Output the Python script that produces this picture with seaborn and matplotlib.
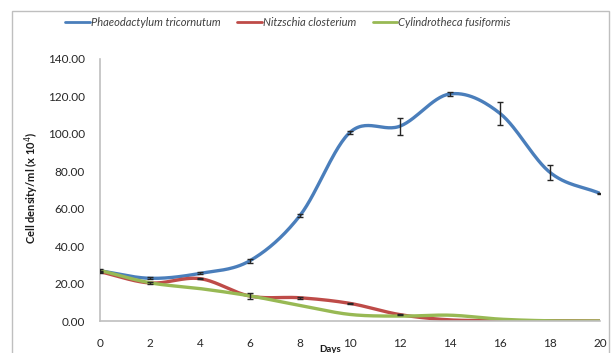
import numpy as np
import pandas as pd
import matplotlib
matplotlib.use("Agg")
import matplotlib.pyplot as plt
from matplotlib.patches import Rectangle
from matplotlib.lines import Line2D
import seaborn as sns

days = [0, 2, 4, 6, 8, 10, 12, 14, 16, 18, 20]
species = ["Phaeodactylum tricornutum", "Nitzschia closterium", "Cylindrotheca fusiformis"]
phaeo = [26.8, 22.8, 25.4, 32.2, 56.3, 100.7, 104.0, 121.2, 110.8, 79.3, 68.1]
phaeo_err = [0.8, 0.6, 0.5, 1.0, 1.0, 0.8, 4.5, 1.0, 6.0, 3.8, 0.4]
nitz = [26.3, 20.3, 22.6, 13.3, 12.4, 9.4, 3.4, 0.6, 0.3, 0.1, 0.0]
nitz_err = [0.5, 0.6, 0.4, 1.5, 0.6, 0.3, 0.3, 0.0, 0.0, 0.0, 0.0]
cylin = [27.0, 20.4, 17.3, 13.4, 8.3, 3.5, 2.6, 3.1, 1.0, 0.1, 0.0]
colors = ["#4A7EBB", "#BE4B48", "#98B954"]


def smooth(x, y, n=30):
    """Catmull-Rom style smoothing through every data point."""
    x = np.asarray(x, float)
    y = np.asarray(y, float)
    px = np.concatenate([[2 * x[0] - x[1]], x, [2 * x[-1] - x[-2]]])
    py = np.concatenate([[2 * y[0] - y[1]], y, [2 * y[-1] - y[-2]]])
    xs, ys = [], []
    for i in range(1, len(px) - 2):
        p0, p1, p2, p3 = (np.array([px[j], py[j]]) for j in (i - 1, i, i + 1, i + 2))
        c1 = p1 + (p2 - p0) / 6.0
        c2 = p2 - (p3 - p1) / 6.0
        t = np.linspace(0, 1, n, endpoint=(i == len(px) - 3))[:, None]
        pts = ((1 - t) ** 3) * p1 + 3 * ((1 - t) ** 2) * t * c1 + 3 * (1 - t) * t ** 2 * c2 + t ** 3 * p2
        xs.append(pts[:, 0])
        ys.append(pts[:, 1])
    return np.concatenate(xs), np.concatenate(ys)


frames = []
for name, vals in zip(species, [phaeo, nitz, cylin]):
    sx, sy = smooth(days, vals)
    frames.append(pd.DataFrame({"Days": sx, "Density": sy, "Species": name}))
curves = pd.concat(frames, ignore_index=True)

sns.set_theme(style="white")
plt.rcParams["font.family"] = ["Lato", "DejaVu Sans"]

W, H = 611, 353
fig = plt.figure(figsize=(W / 100, H / 100), dpi=100)
ax = fig.add_axes([100 / W, (H - 321) / H, 500 / W, (321 - 58.7) / H])

# outer chart frame
fig.patches.append(Rectangle((12 / W, -0.05), (609 - 12) / W, 1.05 - 11 / H,
                             transform=fig.transFigure, fill=False,
                             edgecolor="#BFBFBF", linewidth=1.0))

sns.lineplot(data=curves, x="Days", y="Density", hue="Species", units="Species",
             estimator=None, sort=False, palette=colors, hue_order=species,
             linewidth=2.4, legend=False, ax=ax, zorder=2)

ax.errorbar(days, phaeo, yerr=phaeo_err, fmt="none", ecolor="#262626",
            elinewidth=1.0, capsize=2.5, capthick=1.0, zorder=3)
nz = [i for i, e in enumerate(nitz_err) if e > 0]
ax.errorbar([days[i] for i in nz], [nitz[i] for i in nz], yerr=[nitz_err[i] for i in nz],
            fmt="none", ecolor="#262626", elinewidth=1.0, capsize=2.5, capthick=1.0, zorder=3)

ax.set_xlim(0, 20)
ax.set_ylim(0, 140)
ax.set_xticks(days)
ax.set_xticklabels([str(d) for d in days])
ax.set_yticks(np.arange(0, 141, 20))
ax.set_yticklabels([f"{v:.2f}" for v in np.arange(0, 141, 20)])
ax.tick_params(axis="x", length=0, pad=12, labelsize=8.5, colors="#262626")
ax.tick_params(axis="y", length=3, width=0.8, color="#BFBFBF", pad=8,
               labelsize=8.5, labelcolor="#262626", direction="out")
for s in ["top", "right"]:
    ax.spines[s].set_visible(False)
for s in ["left", "bottom"]:
    ax.spines[s].set_color("#BFBFBF")
    ax.spines[s].set_linewidth(1.2)
ax.set_xlabel("")
ax.set_ylabel("")

fig.text(32 / W, 1 - 188 / H, "Cell density/ml (x 10$^4$)", rotation=90,
         ha="center", va="center", fontsize=8, fontweight="bold", color="#1a1a1a")
fig.text(330 / W, 1 - 350 / H, "Days", ha="center", va="center",
         fontsize=7, fontweight="bold", color="#1a1a1a")

handles = [Line2D([0], [0], color=c, linewidth=2) for c in colors]
leg = fig.legend(handles, species, loc="center", bbox_to_anchor=(288 / W, 1 - 22 / H),
                 ncol=3, frameon=False, handlelength=2.2,
                 handletextpad=0.1, columnspacing=1.5,
                 prop={"style": "italic", "size": 8})
for t in leg.get_texts():
    t.set_color("#404040")

fig.savefig("out.png", dpi=100)
